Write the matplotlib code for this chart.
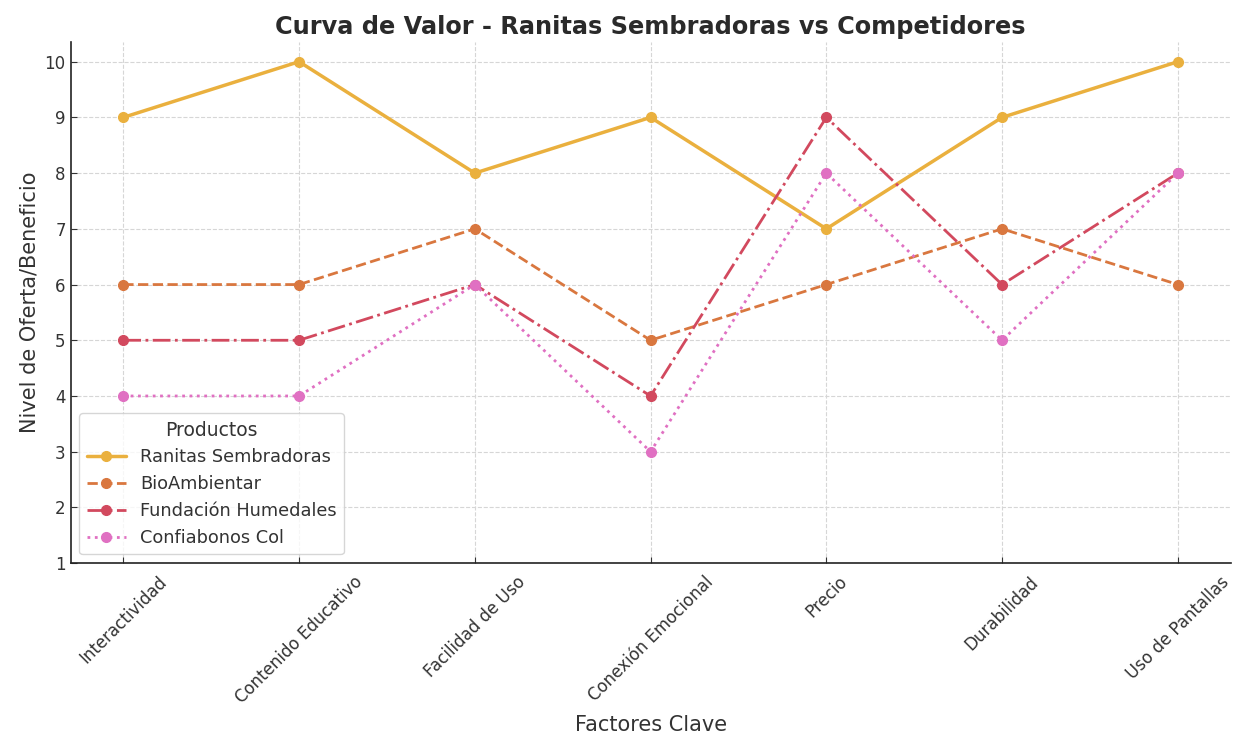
import matplotlib.pyplot as plt
import seaborn as sns

factores = ["Interactividad", "Contenido Educativo", "Facilidad de Uso",
            "Conexión Emocional", "Precio", "Durabilidad", "Uso de Pantallas"]
ranitas = [9, 10, 8, 9, 7, 9, 10]
bioambientar = [6, 6, 7, 5, 6, 7, 6]
fundacion = [5, 5, 6, 4, 9, 6, 8]
confiabonos = [4, 4, 6, 3, 8, 5, 8]

sns.set_style("whitegrid", {"grid.linestyle": "--", "grid.color": "#d6d6d6"})
plt.rcParams['font.family'] = ['DejaVu Sans']

fig = plt.figure(figsize=(12.38, 7.4), dpi=100)
ax = fig.add_axes([0.057, 0.239, 0.937, 0.704])

ax.plot(factores, ranitas, marker='o', linestyle='-', linewidth=2.5, markersize=7,
        color='#EAB03E', label='Ranitas Sembradoras')
ax.plot(factores, bioambientar, marker='o', linestyle='--', linewidth=2, markersize=7,
        color='#D9773F', label='BioAmbientar')
ax.plot(factores, fundacion, marker='o', linestyle='-.', linewidth=2, markersize=7,
        color='#D2495E', label='Fundación Humedales')
ax.plot(factores, confiabonos, marker='o', linestyle=':', linewidth=2, markersize=7,
        color='#E070C2', label='Confiabonos Col')

ax.grid(True, linewidth=0.8)
ax.set_ylim(bottom=1)
ax.set_yticks(range(1, 11))
ax.tick_params(axis='both', labelsize=12, length=4, direction='in',
               colors='#333333', left=True, bottom=True)
ax.tick_params(axis='x', pad=7)
plt.setp(ax.get_xticklabels(), rotation=45, ha='center')

ax.set_title("Curva de Valor - Ranitas Sembradoras vs Competidores",
             fontsize=17.3, fontweight='bold', color='#2a2a2a', pad=6)
ax.set_xlabel("Factores Clave", fontsize=15, color='#333333', labelpad=6)
ax.set_ylabel("Nivel de Oferta/Beneficio", fontsize=15, color='#333333')

for side in ['top', 'right']:
    ax.spines[side].set_visible(False)
for side in ['left', 'bottom']:
    ax.spines[side].set_color('#222222')
    ax.spines[side].set_linewidth(1.2)

leg = ax.legend(title='Productos', loc='lower left', fontsize=12.8, title_fontsize=13.5,
                frameon=True, handlelength=2.2)
for t in leg.get_texts():
    t.set_color('#333333')
leg.get_title().set_color('#333333')

fig.savefig('out.png', dpi=100, facecolor='white')
